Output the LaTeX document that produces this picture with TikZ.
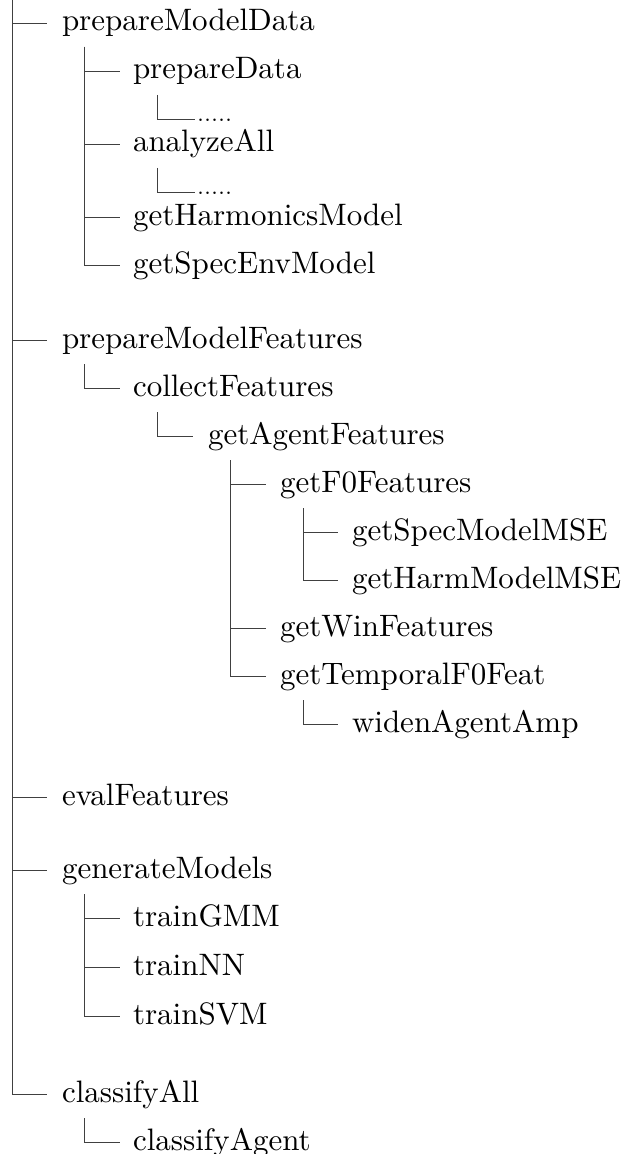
\documentclass[tikz,border=0pt]{standalone}
\begin{document}
\begin{tikzpicture}[x=0.3226pt, y=-0.3226pt,
  item/.style={anchor=base west, inner sep=0pt, outer sep=0pt, font=\normalsize},
  dots/.style={anchor=base west, inner sep=0pt, outer sep=0pt, font=\scriptsize},
  branch/.style={draw=black!75, line width=0.3pt}]
\useasboundingbox (0,0) rectangle (626,1154);

% column x: verticals at 12, 84.8, 157.6, 230.4, 303.2
% ---------- level 1 ----------
\coordinate (root) at (12,-10);
\node[item] (pmd) at (62,31)   {prepareModelData};
\node[item] (pmf) at (62,348)  {prepareModelFeatures};
\node[item] (ef)  at (62,805)  {evalFeatures};
\node[item] (gm)  at (62,878)  {generateModels};
\node[item] (ca)  at (62,1102) {classifyAll};
\coordinate (pmd-in) at (47,23);
\coordinate (pmf-in) at (47,340);
\coordinate (ef-in)  at (47,797);
\coordinate (gm-in)  at (47,870);
\coordinate (ca-in)  at (47,1094);

% ---------- under prepareModelData ----------
\coordinate (pmd-out) at (84.8,47);
\node[item] (pd)   at (133,79)  {prepareData};
\node[item] (az)   at (133,152) {analyzeAll};
\node[item] (ghm)  at (133,225) {getHarmonicsModel};
\node[item] (gsem) at (133,273) {getSpecEnvModel};
\coordinate (pd-in)   at (119.8,71);
\coordinate (az-in)   at (119.8,144);
\coordinate (ghm-in)  at (119.8,217);
\coordinate (gsem-in) at (119.8,265);

\coordinate (pd-out) at (157.6,95);
\node[dots] (d1) at (197,122) {.....};
\coordinate (d1-in) at (195,119);
\coordinate (az-out) at (157.6,168);
\node[dots] (d2) at (197,195) {.....};
\coordinate (d2-in) at (195,192);

% ---------- under prepareModelFeatures ----------
\coordinate (pmf-out) at (84.8,364);
\node[item] (cf) at (133,396) {collectFeatures};
\coordinate (cf-in) at (119.8,388);

\coordinate (cf-out) at (157.6,412);
\node[item] (gaf) at (208,444) {getAgentFeatures};
\coordinate (gaf-in) at (193,436);

\coordinate (gaf-out) at (230.4,460);
\node[item] (gf0) at (280,492) {getF0Features};
\node[item] (gwf) at (280,636) {getWinFeatures};
\node[item] (gtf) at (280,684) {getTemporalF0Feat};
\coordinate (gf0-in) at (266,484);
\coordinate (gwf-in) at (266,628);
\coordinate (gtf-in) at (266,676);

\coordinate (gf0-out) at (303.2,508);
\node[item] (gsmm) at (352,540) {getSpecModelMSE};
\node[item] (ghmm) at (352,588) {getHarmModelMSE};
\coordinate (gsmm-in) at (338,532);
\coordinate (ghmm-in) at (338,580);

\coordinate (gtf-out) at (303.2,700);
\node[item] (waa) at (352,732) {widenAgentAmp};
\coordinate (waa-in) at (338,724);

% ---------- under generateModels ----------
\coordinate (gm-out) at (84.8,894);
\node[item] (tg) at (133,926)  {trainGMM};
\node[item] (tn) at (133,975)  {trainNN};
\node[item] (ts) at (133,1024) {trainSVM};
\coordinate (tg-in) at (119.8,918);
\coordinate (tn-in) at (119.8,967);
\coordinate (ts-in) at (119.8,1016);

% ---------- under classifyAll ----------
\coordinate (ca-out) at (84.8,1118);
\node[item] (cag) at (133,1150) {classifyAgent};
\coordinate (cag-in) at (119.8,1142);

% ---------- connectors ----------
\foreach \c in {pmd,pmf,ef,gm,ca} \draw[branch] (root) |- (\c-in);
\foreach \c in {pd,az,ghm,gsem} \draw[branch] (pmd-out) |- (\c-in);
\draw[branch] (pd-out) |- (d1-in);
\draw[branch] (az-out) |- (d2-in);
\draw[branch] (pmf-out) |- (cf-in);
\draw[branch] (cf-out) |- (gaf-in);
\foreach \c in {gf0,gwf,gtf} \draw[branch] (gaf-out) |- (\c-in);
\foreach \c in {gsmm,ghmm} \draw[branch] (gf0-out) |- (\c-in);
\draw[branch] (gtf-out) |- (waa-in);
\foreach \c in {tg,tn,ts} \draw[branch] (gm-out) |- (\c-in);
\draw[branch] (ca-out) |- (cag-in);
\end{tikzpicture}
\end{document}
